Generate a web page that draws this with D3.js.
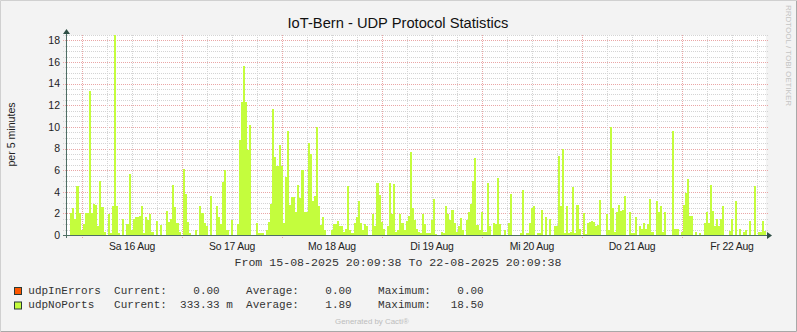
<!DOCTYPE html>
<html><head><meta charset="utf-8">
<script src="https://cdn.jsdelivr.net/npm/d3@7"></script>
<style>
html,body{margin:0;padding:0;background:#f3f3f3;}
svg{display:block;}
</style>
</head><body>
<svg id="chart" width="797" height="332"></svg>
<script>
// ---------------- data ----------------
const chartTitle = "IoT-Bern - UDP Protocol Statistics";
const yAxisLabel = "per 5 minutes";
const startTime = new Date(2025, 7, 15, 20, 9, 38);
const endTime = new Date(2025, 7, 22, 20, 9, 38);
const stepMinutes = 30;
const yTickValues = [0, 2, 4, 6, 8, 10, 12, 14, 16, 18];
const dayLabels = ["Sa 16 Aug", "So 17 Aug", "Mo 18 Aug", "Di 19 Aug", "Mi 20 Aug", "Do 21 Aug", "Fr 22 Aug"];
const periodText = "From 15-08-2025 20:09:38 To 22-08-2025 20:09:38";
const seriesNames = ["udpInErrors", "udpNoPorts"];
const currentValues = [0, 0.33333];
const averageValues = [0, 1.89];
const maximumValues = [0, 18.5];
// udpNoPorts, one value per 30 minutes
const udpNoPorts = [
0,0,2.0,2.5,1.5,4.5,2.0,0.5,1.0,2.0,
2.0,13.3,2.0,2.9,2.8,0.8,5.0,2.6,0.3,0,
1.9,0.15,2.7,18.5,2.7,0.2,0,1.5,0,1.0,
5.6,0.5,1.5,1.7,1.7,1.8,2.7,0.2,1.7,1.4,
1.9,0.3,0,1.3,0,0.9,0,0,2.2,1.2,
1.5,4.6,2.6,1.1,0.3,0,6.1,3.8,1.2,0.2,
0,0,0.5,0,2.7,2.0,1.1,0.8,0,3.6,
0,0,2.7,1.7,1.0,4.9,6.0,0.5,0,1.4,
0,0,1.0,8.8,12.3,15.6,12.3,7.9,10.2,0,
0,1.1,0.2,0.2,0.2,0,0.5,1.2,2.9,11.7,
7.2,6.4,8.3,6.4,1.1,5.4,9.6,2.8,3.5,3.5,
2.1,4.6,3.4,6.0,2.1,2.1,8.5,7.5,3.1,3.6,
10.0,2.7,0.9,1.7,0.5,0,0,0.5,1.0,1.0,
1.3,0.8,0.8,0.3,0.6,4.5,0.5,0.2,1.1,1.7,
3.1,1.1,0.5,1.0,0.8,0,0,1.9,0.8,4.8,
3.7,1.2,0.6,0,0.8,4.8,1.9,4.7,0.3,0.5,
1.9,1.1,0.5,1.3,1.8,7.7,2.5,1.4,0.6,0.3,
0.2,1.9,1.0,0.2,0.2,1.4,3.3,0.1,0,0,
0.3,0.2,2.7,1.9,1.4,2.3,1.1,0.3,0.8,1.6,
0.5,0,1.4,2.1,2.9,5.0,7.1,0.9,0.5,2.1,
0.3,0.3,4.8,0.8,0,1.1,1.0,5.3,1.0,0,
0.5,0,1.1,3.8,0,0,0,0,0.2,4.2,
0,0.2,1.1,2.5,2.7,0,0.2,0.2,2.3,0,
1.7,0,1.5,0,0.8,0.8,7.3,2.7,8.0,0.2,
2.7,0.2,0.3,4.4,0.2,2.8,0.6,0,2.0,0.1,
1.1,1.2,1.3,1.2,0.8,0.9,3.2,0,0,1.9,
0.5,10.0,2.5,0.3,2.1,2.8,2.2,2.3,3.6,0,
2.1,0.2,0.2,1.7,0,0.8,0.6,1.1,0.6,1.0,
3.3,0.3,0,3.1,2.1,2.7,0.3,2.1,0,0,
0,9.6,0.6,0.6,0,0.3,2.8,3.9,5.2,1.8,
1.8,0,0.3,0,0.2,0,1.1,2.1,1.1,4.6,
2.2,0.8,1.5,0.8,1.5,2.7,0,0,0.4,1.5,
0,3.1,0,0.6,0,0.3,0.5,0,1.3,0,
4.5,0,0.3,0.3,1.3,0.33
];

// ---------------- styles ----------------
const colors = { udpInErrors: "#FF5700", udpNoPorts: "#C4FD3D" };
const sansFont = "'Liberation Sans', Arial, sans-serif";
const monoFont = "'Liberation Mono', 'Courier New', monospace";

const svg = d3.select("#chart");
const W = 797, H = 332;
const plot = { left: 66, right: 766, top: 35, bottom: 235 };

// background + 3D frame
svg.append("rect").attr("x", 0).attr("y", 0).attr("width", W).attr("height", H).attr("fill", "#f3f3f3");
svg.append("path").attr("d", `M0.5,${H}V0.5H${W}`).attr("stroke", "#d0d0d0").attr("fill", "none");
svg.append("path").attr("d", `M1,${H - 0.5}H${W - 0.5}V1`).attr("stroke", "#a8a8a8").attr("fill", "none");

// canvas
svg.append("rect").attr("x", plot.left).attr("y", plot.top)
  .attr("width", plot.right - plot.left).attr("height", plot.bottom - plot.top).attr("fill", "#ffffff");

const x = d3.scaleTime().domain([startTime, endTime]).range([plot.left, plot.right]);
const y = d3.scaleLinear().domain([0, 18.5]).range([plot.bottom, plot.top]);

// ---------------- grid ----------------
const grid = svg.append("g").attr("shape-rendering", "crispEdges");
const minorY = d3.range(0.5, 18.51, 0.5).filter(v => v % 2 !== 0);
grid.selectAll(".hmin").data(minorY).join("line")
  .attr("x1", plot.left - 3).attr("x2", plot.right + 2)
  .attr("y1", d => Math.round(y(d)) + 0.5).attr("y2", d => Math.round(y(d)) + 0.5)
  .attr("stroke", "#d4d4d4").attr("stroke-dasharray", "1,1");
grid.selectAll(".hmaj").data(yTickValues.filter(v => v > 0)).join("line")
  .attr("x1", plot.left - 3).attr("x2", plot.right + 2)
  .attr("y1", d => Math.round(y(d)) + 0.5).attr("y2", d => Math.round(y(d)) + 0.5)
  .attr("stroke", "#eaa6a6").attr("stroke-dasharray", "1,1");

const sixHours = d3.timeHour.every(6).range(startTime, endTime);
const minorX = sixHours.filter(d => d.getHours() !== 0);
const majorX = d3.timeDay.range(startTime, endTime);
grid.selectAll(".vmin").data(minorX).join("line")
  .attr("x1", d => Math.round(x(d)) + 0.5).attr("x2", d => Math.round(x(d)) + 0.5)
  .attr("y1", plot.top).attr("y2", plot.bottom + 2)
  .attr("stroke", "#d4d4d4").attr("stroke-dasharray", "1,1");
grid.selectAll(".vmaj").data(majorX).join("line")
  .attr("x1", d => Math.round(x(d)) + 0.5).attr("x2", d => Math.round(x(d)) + 0.5)
  .attr("y1", plot.top).attr("y2", plot.bottom + 3)
  .attr("stroke", "#eaa6a6").attr("stroke-dasharray", "1,1");

// ---------------- series ----------------
const samples = udpNoPorts.map((v, i) => ({ t: d3.timeMinute.offset(startTime, i * stepMinutes), v }));
samples.push({ t: endTime, v: udpNoPorts[udpNoPorts.length - 1] });
const area = d3.area()
  .x(d => x(d.t)).y0(y(0)).y1(d => y(d.v))
  .curve(d3.curveStepAfter);
svg.append("path").datum(samples)
  .attr("d", area).attr("fill", colors.udpNoPorts).attr("shape-rendering", "crispEdges");

// ---------------- axes ----------------
const axisColor = "#4e6e64";
const arrowColor = "#2f4f45";
svg.append("line").attr("x1", plot.left - 3).attr("x2", plot.right + 3)
  .attr("y1", plot.bottom + 0.5).attr("y2", plot.bottom + 0.5)
  .attr("stroke", axisColor).attr("shape-rendering", "crispEdges");
svg.append("line").attr("x1", plot.left + 0.5).attr("x2", plot.left + 0.5)
  .attr("y1", plot.bottom + 3).attr("y2", plot.top - 2)
  .attr("stroke", axisColor).attr("shape-rendering", "crispEdges");
svg.append("path").attr("d", `M${plot.right + 1},${plot.bottom - 3}L${plot.right + 6},${plot.bottom + 0.5}L${plot.right + 1},${plot.bottom + 4}Z`).attr("fill", arrowColor);
svg.append("path").attr("d", `M${plot.left - 3},${plot.top - 1}L${plot.left + 0.5},${plot.top - 6}L${plot.left + 4},${plot.top - 1}Z`).attr("fill", arrowColor);

// y tick labels
svg.selectAll(".ylab").data(yTickValues).join("text")
  .attr("x", 60).attr("y", d => y(d) + 3.8)
  .attr("text-anchor", "end")
  .attr("font-family", sansFont).attr("font-size", "10.5px").attr("fill", "#222")
  .text(d => d);

// x day labels at noon
const noons = majorX.map(d => d3.timeHour.offset(d, 12));
svg.selectAll(".xlab").data(dayLabels).join("text")
  .attr("x", (d, i) => x(noons[i])).attr("y", 250)
  .attr("text-anchor", "middle")
  .attr("font-family", sansFont).attr("font-size", "10.4px").attr("fill", "#222")
  .attr("letter-spacing", "-0.2px")
  .text(d => d);

// title
svg.append("text").attr("x", 398).attr("y", 28)
  .attr("text-anchor", "middle")
  .attr("font-family", sansFont).attr("font-size", "14.7px").attr("fill", "#111")
  .text(chartTitle);

// y axis label
svg.append("text").attr("transform", "translate(14.5,134.5) rotate(-90)")
  .attr("text-anchor", "middle")
  .attr("font-family", sansFont).attr("font-size", "10.6px").attr("fill", "#222")
  .text(yAxisLabel);

// watermark
svg.append("text").attr("transform", "translate(785.5,5) rotate(90)")
  .attr("font-family", sansFont).attr("font-size", "8px").attr("fill", "#c4c4c4")
  .text("RRDTOOL / TOBI OETIKER");

// period line
svg.append("text").attr("x", 398).attr("y", 265.5)
  .attr("text-anchor", "middle")
  .attr("font-family", monoFont).attr("font-size", "11.6px").attr("fill", "#333")
  .attr("xml:space", "preserve").style("white-space", "pre")
  .text(periodText);

// ---------------- legend ----------------
const cw = 6.6, lx0 = 28.3;
const rowY = [293.5, 308];
function fmtNum(v) { return (v !== 0 && Math.abs(v) < 1) ? (v * 1000).toFixed(2) : v.toFixed(2); }
function fmtUnit(v) { return (v !== 0 && Math.abs(v) < 1) ? " m" : ""; }
const lg = svg.append("g").attr("font-family", monoFont).attr("font-size", "11px").attr("fill", "#333");
seriesNames.forEach((name, i) => {
  const by = rowY[i];
  lg.append("rect").attr("x", 14.5).attr("y", by - 6).attr("width", 7).attr("height", 7)
    .attr("fill", colors[name]).attr("stroke", "#2a3a35").attr("stroke-width", 1);
  lg.append("text").attr("x", lx0).attr("y", by).text(name);
  const cols = [["Current:", 13, currentValues[i], 29], ["Average:", 33, averageValues[i], 49], ["Maximum:", 53, maximumValues[i], 69]];
  cols.forEach(([lab, c, val, endc]) => {
    lg.append("text").attr("x", lx0 + c * cw).attr("y", by).text(lab);
    lg.append("text").attr("x", lx0 + endc * cw).attr("y", by).attr("text-anchor", "end").text(fmtNum(val));
    const u = fmtUnit(val);
    if (u) lg.append("text").attr("x", lx0 + endc * cw).attr("y", by).style("white-space", "pre").text(u);
  });
});

// footer
svg.append("text").attr("x", 335).attr("y", 324)
  .attr("font-family", sansFont).attr("font-size", "7.9px").attr("fill", "#bdbdbd")
  .text("Generated by Cacti®");
</script>
</body></html>
